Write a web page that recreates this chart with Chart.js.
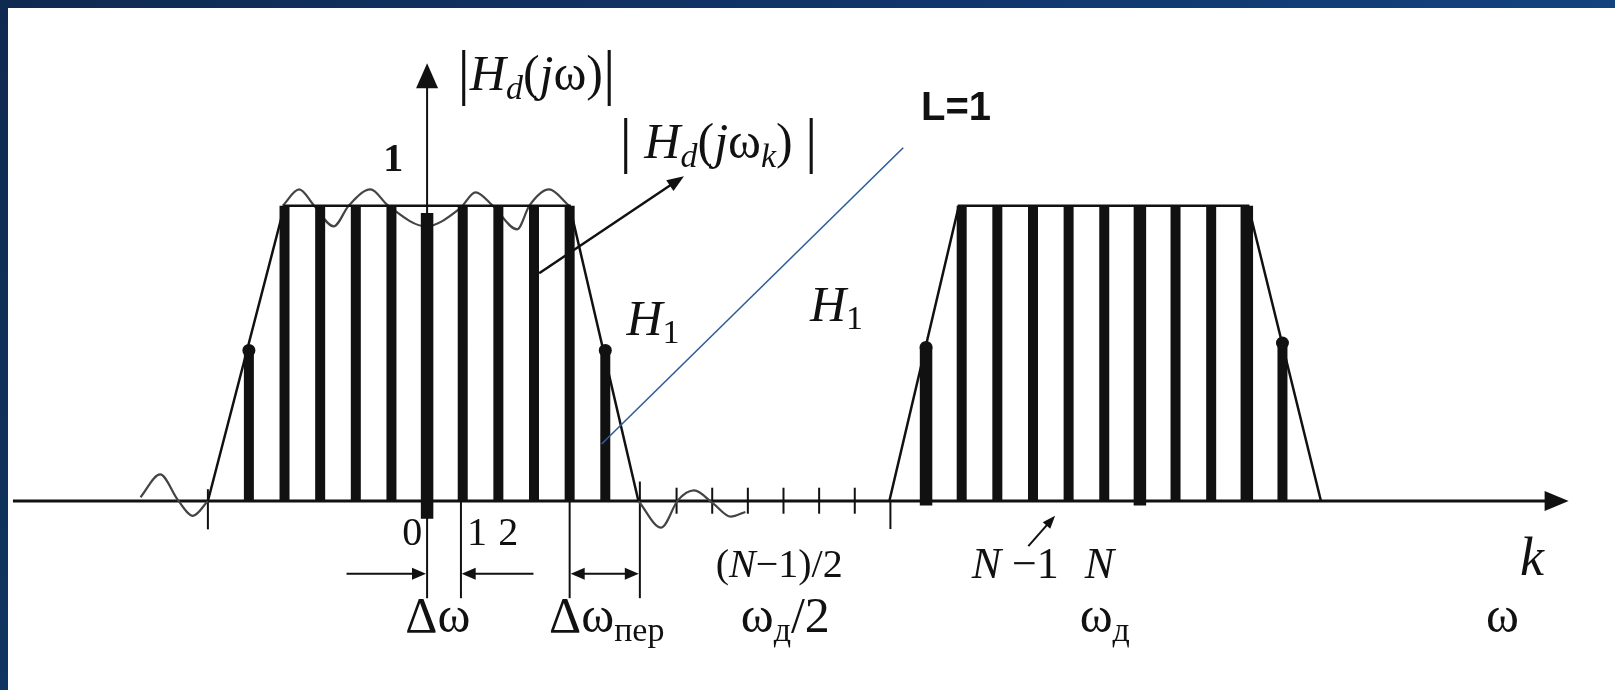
<!DOCTYPE html>
<html>
<head>
<meta charset="utf-8">
<script src="https://cdn.jsdelivr.net/npm/chart.js@4.4.1/dist/chart.umd.min.js"></script>
<style>
  html, body { margin: 0; padding: 0; background: #fff; }
  #wrap { position: relative; width: 1615px; height: 690px; overflow: hidden; background: #fff; }
  #frameTop { position: absolute; left: 0; top: 0; width: 1615px; height: 8px;
              background: linear-gradient(90deg, #0f2a50 0%, #11356a 55%, #13427f 100%); }
  #frameLeft { position: absolute; left: 0; top: 0; width: 8px; height: 690px;
               background: linear-gradient(180deg, #0f2a50 0%, #0f3560 100%); }
  canvas { display: block; }
</style>
</head>
<body>
<div id="wrap">
  <canvas id="c" width="1615" height="690"></canvas>
  <div id="frameTop"></div>
  <div id="frameLeft"></div>
</div>
<script>
// Frequency samples k and their magnitudes |H_d(jω_k)|
const sampleK   = [-5, -4, -3, -2, -1, 0, 1, 2, 3, 4, 5,
                   14, 15, 16, 17, 18, 19, 20, 21, 22, 23, 24];
const sampleMag = [0.51, 1, 1, 1, 1, 0.975, 1, 1, 1, 1, 0.51,
                   0.52, 1, 1, 1, 1, 1, 1, 1, 1, 1, 0.535];
// Heavier stems and how far they reach below the axis
const heavyK    = [0, 14, 20, 23];
const heavyFoot = [-0.06, -0.015, -0.015, 0];
// Transition-band samples H1 (marked with dots)
const transK = [-5, 5, 14, 24];

// Ideal magnitude response: base band and its image around N
const baseEdgeK   = [-6.15, -4, 4, 5.93];
const baseEdgeMag = [0, 1, 1, 0];
const imageEdgeK   = [12.97, 14.92, 23.04, 25.08];
const imageEdgeMag = [0, 1, 1, 0];

// Continuous response |H_d(jω)| with ripple (null breaks the curve)
const rippleK   = [-8.04, -7.49, -6.99, -6.57, -6.15, null,
                   -4.05, -3.59, -3.17, -2.62, -2.20, -1.59, -1.09, -0.03, 0.92, 1.36, 1.84, 2.53, 2.87, 3.42, 3.98, null,
                   5.93, 6.57, 7.04, 7.49, 8.04, 8.52, 8.93];
const rippleMag = [0.013, 0.09, 0.003, -0.05, 0, null,
                   1.0, 1.055, 1.0, 0.93, 1.0, 1.055, 1.0, 0.93, 0.99, 1.045, 1.0, 0.92, 1.0, 1.055, 1.0, null,
                   0, -0.09, 0.003, 0.036, -0.01, -0.053, -0.037];

// Tick marks on the k axis
const shortTickK = [7, 8, 9, 10, 11, 12];

const INK = '#111';
const SERIF = '"Liberation Serif", "Times New Roman", serif';

function stemPoints(filterHeavy) {
  const pts = [];
  sampleK.forEach((k, i) => {
    const hi = heavyK.indexOf(k);
    if ((hi >= 0) !== filterHeavy) return;
    const foot = hi >= 0 ? heavyFoot[hi] : 0;
    pts.push({ x: k, y: foot }, { x: k, y: sampleMag[i] }, { x: k, y: null });
  });
  return pts;
}
const zipXY = (xs, ys) => xs.map((x, i) => ({ x: x === null ? NaN : x, y: ys[i] }));

function arrowHead(ctx, x1, y1, x2, y2, len, half) {
  const a = Math.atan2(y2 - y1, x2 - x1);
  const c = Math.cos(a), s = Math.sin(a);
  ctx.beginPath();
  ctx.moveTo(x2, y2);
  ctx.lineTo(x2 - len * c + half * s, y2 - len * s - half * c);
  ctx.lineTo(x2 - len * c - half * s, y2 - len * s + half * c);
  ctx.closePath();
  ctx.fill();
}
function arrow(ctx, x1, y1, x2, y2, len, half, both) {
  const a = Math.atan2(y2 - y1, x2 - x1);
  const c = Math.cos(a), s = Math.sin(a);
  ctx.beginPath();
  ctx.moveTo(both ? x1 + len * 0.6 * c : x1, both ? y1 + len * 0.6 * s : y1);
  ctx.lineTo(x2 - len * 0.6 * c, y2 - len * 0.6 * s);
  ctx.stroke();
  arrowHead(ctx, x1, y1, x2, y2, len, half);
  if (both) arrowHead(ctx, x2, y2, x1, y1, len, half);
}
function fontOf(p) {
  const st = p[2] === 'i' ? 'italic ' : p[2] === 'b' ? 'bold ' : '';
  const fam = p[4] || SERIF;
  return st + p[1] + 'px ' + fam;
}
function rich(ctx, parts, x, y, align) {
  let w = 0;
  parts.forEach(p => { ctx.font = fontOf(p); p.w = ctx.measureText(p[0]).width; w += p.w; });
  let cx = align === 'center' ? x - w / 2 : x;
  ctx.textAlign = 'left';
  ctx.textBaseline = 'alphabetic';
  parts.forEach(p => { ctx.font = fontOf(p); ctx.fillText(p[0], cx, y + (p[3] || 0)); cx += p.w; });
}

// Texts of the drawing: [text, size, style, dy, family]
const labels = [
  { k: 0.85, v: 1.39, parts: [['|', 62, 'n', 3], ['H', 50, 'i'], ['d', 34, 'i', 9], ['(', 50, 'n'], ['j', 50, 'i'], ['ω', 50, 'n'], [')', 50, 'n'], ['|', 62, 'n', 3]] },
  { k: -0.946, v: 1.116, align: 'center', parts: [['1', 40, 'b']] },
  { k: 5.40, v: 1.16, parts: [['|\u2009', 62, 'n', 3], ['H', 50, 'i'], ['d', 34, 'i', 9], ['(', 50, 'n'], ['j', 50, 'i'], ['ω', 50, 'n'], ['k', 34, 'i', 9], [')', 50, 'n'], ['\u2009|', 62, 'n', 3]] },
  { k: 13.86, v: 1.29, parts: [['L=1', 40, 'b', 0, '"Liberation Sans", Arial, sans-serif']] },
  { k: 5.594, v: 0.561, parts: [['H', 50, 'i'], ['1', 34, 'n', 8]] },
  { k: 10.743, v: 0.611, parts: [['H', 50, 'i'], ['1', 34, 'n', 8]] },
  { k: -0.417, v: -0.150, align: 'center', parts: [['0', 40, 'n']] },
  { k: 1.40, v: -0.150, align: 'center', parts: [['1', 40, 'n']] },
  { k: 2.28, v: -0.150, align: 'center', parts: [['2', 40, 'n']] },
  { k: -0.612, v: -0.442, parts: [['Δω', 50, 'n']] },
  { k: 3.423, v: -0.442, parts: [['Δω', 50, 'n'], ['пер', 34, 'n', 9]] },
  { k: 9.88, v: -0.256, align: 'center', parts: [['(', 40, 'n'], ['N', 40, 'i'], ['−1)/2', 40, 'n']] },
  { k: 10.05, v: -0.445, align: 'center', parts: [['ω', 50, 'n'], ['д', 34, 'n', 9], ['/2', 50, 'n']] },
  { k: 15.28, v: -0.262, parts: [['N', 44, 'i'], [' −1', 44, 'n']] },
  { k: 18.45, v: -0.262, parts: [['N', 44, 'i']] },
  { k: 18.31, v: -0.445, parts: [['ω', 50, 'n'], ['д', 34, 'n', 9]] },
  { k: 31.0, v: -0.252, align: 'center', parts: [['k', 54, 'i']] },
  { k: 30.17, v: -0.442, align: 'center', parts: [['ω', 50, 'n']] }
];

const schematic = {
  id: 'schematic',
  beforeDatasetsDraw(chart) {
    const ctx = chart.ctx, X = chart.scales.x, Y = chart.scales.y;
    const px = k => X.getPixelForValue(k), py = v => Y.getPixelForValue(v);
    ctx.save();
    ctx.strokeStyle = INK; ctx.fillStyle = INK; ctx.lineCap = 'butt';

    // k axis with arrow
    ctx.lineWidth = 3;
    arrow(ctx, px(-11.62), py(0), px(32.03), py(0), 24, 10, false);
    // magnitude axis with arrow, continued downward as a dimension line
    ctx.lineWidth = 2;
    arrow(ctx, px(0), py(-0.329), px(0), py(1.482), 25, 11, false);

    // ticks
    ctx.lineWidth = 2;
    shortTickK.forEach(k => { ctx.beginPath(); ctx.moveTo(px(k), py(0.045)); ctx.lineTo(px(k), py(-0.043)); ctx.stroke(); });
    [[-6.15, 0.04, -0.096], [13, 0.0, -0.095]].forEach(([k, a, b]) => {
      ctx.beginPath(); ctx.moveTo(px(k), py(a)); ctx.lineTo(px(k), py(b)); ctx.stroke();
    });

    // dimension lines for Δω and Δω_пер
    [[0.95, 0], [4.0, 0], [5.97, 0.066]].forEach(([k, top]) => {
      ctx.beginPath(); ctx.moveTo(px(k), py(top)); ctx.lineTo(px(k), py(-0.329)); ctx.stroke();
    });
    const dv = py(-0.246);
    arrow(ctx, px(-2.26), dv, px(-0.03), dv, 14, 6, false);
    arrow(ctx, px(2.985), dv, px(0.97), dv, 14, 6, false);
    arrow(ctx, px(4.03), dv, px(5.94), dv, 14, 6, true);
    ctx.restore();
  },
  afterDatasetsDraw(chart) {
    const ctx = chart.ctx, X = chart.scales.x, Y = chart.scales.y;
    const px = k => X.getPixelForValue(k), py = v => Y.getPixelForValue(v);
    ctx.save();
    ctx.strokeStyle = INK; ctx.fillStyle = INK;

    // pointer to |H_d(jω_k)|
    ctx.lineWidth = 2.5;
    arrow(ctx, px(3.145), py(0.771), px(7.208), py(1.100), 17, 6.5, false);
    // pointer to sample N-1
    ctx.lineWidth = 2;
    arrow(ctx, px(16.87), py(-0.153), px(17.62), py(-0.05), 13, 5, false);

    // leader for L=1
    ctx.strokeStyle = '#2f5d9a'; ctx.lineWidth = 1.6;
    ctx.beginPath(); ctx.moveTo(px(4.898), py(0.193)); ctx.lineTo(px(13.359), py(1.196)); ctx.stroke();

    ctx.fillStyle = INK;
    labels.forEach(l => rich(ctx, l.parts, px(l.k), py(l.v), l.align || 'left'));
    ctx.restore();
  }
};

new Chart(document.getElementById('c'), {
  type: 'scatter',
  data: {
    datasets: [
      { label: 'outline-base', data: zipXY(baseEdgeK, baseEdgeMag), showLine: true,
        borderColor: INK, borderWidth: 2.5, pointRadius: 0, tension: 0, order: 3 },
      { label: 'outline-image', data: zipXY(imageEdgeK, imageEdgeMag), showLine: true,
        borderColor: INK, borderWidth: 2.5, pointRadius: 0, tension: 0, order: 3 },
      { label: 'ripple', data: zipXY(rippleK, rippleMag), showLine: true, spanGaps: false,
        borderColor: '#444', borderWidth: 2.2, pointRadius: 0,
        cubicInterpolationMode: 'monotone', order: 4 },
      { label: 'stems', data: stemPoints(false), showLine: true, spanGaps: false,
        borderColor: INK, borderWidth: 10, borderCapStyle: 'butt', pointRadius: 0, order: 2 },
      { label: 'stems-heavy', data: stemPoints(true), showLine: true, spanGaps: false,
        borderColor: INK, borderWidth: 12.5, borderCapStyle: 'butt', pointRadius: 0, order: 2 },
      { label: 'H1', data: transK.map(k => ({ x: k, y: sampleMag[sampleK.indexOf(k)] })),
        showLine: false, pointRadius: 6.5, pointBackgroundColor: INK, pointBorderWidth: 0, order: 1 }
    ]
  },
  options: {
    responsive: false,
    animation: false,
    events: [],
    layout: { padding: 0 },
    plugins: { legend: { display: false }, tooltip: { enabled: false } },
    scales: {
      x: { type: 'linear', min: -11.8008, max: 33.148, display: false },
      y: { type: 'linear', min: -0.6179, max: 1.6744, display: false }
    }
  },
  plugins: [schematic]
});
</script>
</body>
</html>
